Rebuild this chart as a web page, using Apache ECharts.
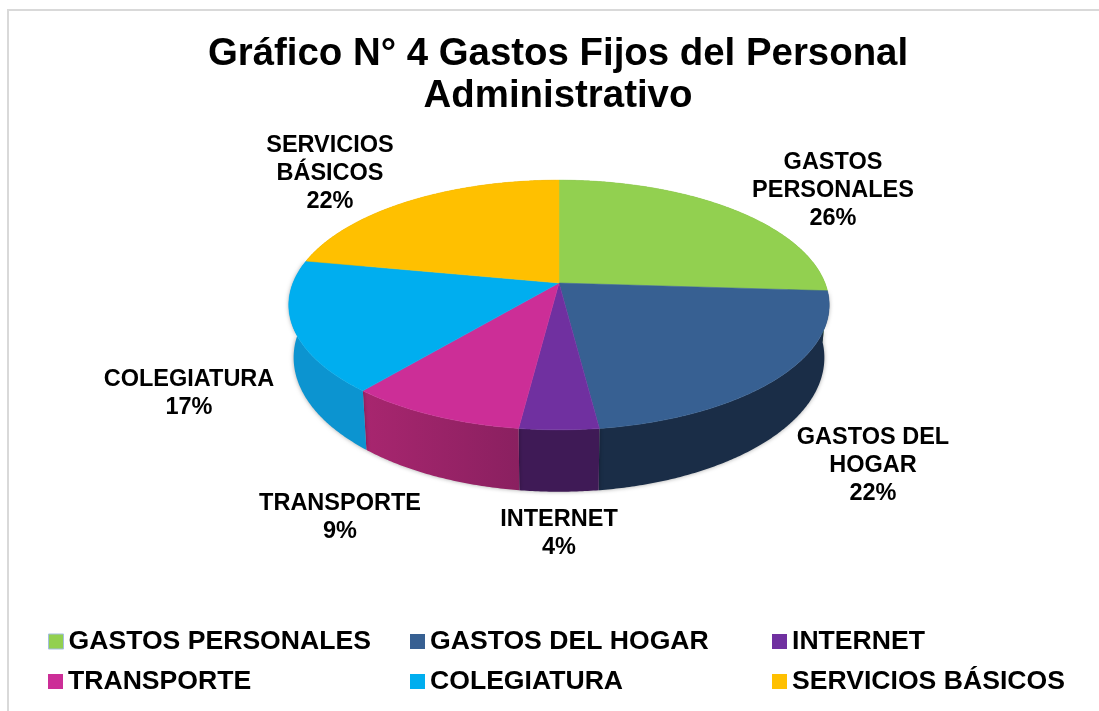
<!DOCTYPE html>
<html>
<head>
<meta charset="utf-8">
<style>
  html,body{margin:0;padding:0;background:#fff}
  #chart{width:1099px;height:711px}
</style>
<script src="https://cdn.jsdelivr.net/npm/echarts@6/dist/echarts.min.js"></script>
</head>
<body>
<div id="chart"></div>
<script>
const categories=['GASTOS PERSONALES','GASTOS DEL HOGAR','INTERNET','TRANSPORTE','COLEGIATURA','SERVICIOS BÁSICOS']
const values=[26,22,4,9,17,22]
const labelLines=['GASTOS\nPERSONALES\n26%','GASTOS DEL\nHOGAR\n22%','INTERNET\n4%','TRANSPORTE\n9%','COLEGIATURA\n17%','SERVICIOS\nBÁSICOS\n22%']
const topColors=['#92d050','#376092','#7030a0','#cc2e97','#00aeef','#ffc000']
const sideColors=['#6f9e3c','#1a2d47','#3f1a56','#96226a','#0c94d0','#c49400']

// posiciones de etiquetas y leyenda
const labelPos=[[833,191],[873,466],[559,534],[340,518],[189,394],[330,174]]
const legendPos=[[48,628],[410,628],[772,628],[48,668],[410,668],[772,668]]

// pastel con perspectiva
const cx=559,cy=283,rx=266,ry=121,persp=0.176,depth=51,bottomScale=0.982
const total=values.reduce((a,b)=>a+b,0)

function project(deg){
  let t=deg*Math.PI/180
  let u=Math.sin(t),v=-Math.cos(t)
  let s=1/(1-persp*v)
  return {x:cx+rx*u*s,y:cy+ry*v*s,s:s}
}

function startOf(i){
  return values.slice(0,i).reduce((a,b)=>a+b,0)/total*360
}

function sideFill(i){
  if(i!==3)return sideColors[i]
  // el lado del transporte se aclara hacia la izquierda
  return new echarts.graphic.LinearGradient(0,0,1,0,[
    {offset:0,color:'#a8266f'},
    {offset:1,color:'#8a2060'}
  ])
}

function makeRender(i){
  return function(params,api){
    let a0=startOf(i)
    let a1=a0+api.value(0)/total*360
    let rim=[]
    for(let a=a0;a<a1;a+=0.5){rim.push(project(a))}
    rim.push(project(a1))
    let topPts=[[cx,cy]].concat(rim.map(p=>[p.x,p.y]))
    let lowPts=rim.slice().reverse().map(p=>[cx+(p.x-cx)*bottomScale,p.y+depth*p.s])
    let wallPts=rim.map(p=>[p.x,p.y]).concat(lowPts)
    // los lados de atras quedan tapados, sin sombra
    let hidden=i===0||i===5
    return {
      type:'group',
      children:[
        {
          type:'polygon',
          z2:1,
          shape:{points:wallPts},
          style:{
            fill:sideFill(i),
            shadowColor:hidden?'transparent':'rgba(0,0,0,0.35)',
            shadowBlur:hidden?0:4
          }
        },
        {
          type:'polygon',
          z2:5,
          shape:{points:topPts},
          style:{fill:topColors[i],stroke:topColors[i],lineWidth:0.5}
        },
        {
          type:'text',
          z2:10,
          x:labelPos[i][0],
          y:labelPos[i][1],
          style:{
            text:labelLines[i],
            fill:'#000',
            font:'bold 23.5px "Liberation Sans", Arial, sans-serif',
            lineHeight:28,
            align:'center',
            verticalAlign:'middle'
          }
        }
      ]
    }
  }
}

let chart=echarts.init(document.getElementById('chart'),null,{renderer:'canvas'})
chart.setOption({
  animation:false,
  backgroundColor:'#fff',
  title:{
    text:'Gráfico N° 4 Gastos Fijos del Personal\nAdministrativo',
    left:553,
    top:28,
    textAlign:'center',
    textStyle:{
      fontFamily:'"Liberation Sans", Arial, sans-serif',
      fontWeight:'bold',
      fontSize:38.4,
      lineHeight:42,
      color:'#000'
    }
  },
  legend:categories.map((name,i)=>({
    data:[name],
    left:legendPos[i][0],
    top:legendPos[i][1],
    padding:0,
    itemWidth:15,
    itemHeight:15,
    itemGap:0,
    icon:'rect',
    selectedMode:false,
    itemStyle:i===0?{borderColor:'#a3bde0',borderWidth:1}:{},
    textStyle:{
      fontFamily:'"Liberation Sans", Arial, sans-serif',
      fontWeight:'bold',
      fontSize:26.6,
      color:'#000'
    }
  })),
  graphic:[
    {type:'line',shape:{x1:8,y1:10,x2:8,y2:711},style:{stroke:'#d9d9d9',lineWidth:2}},
    {type:'line',shape:{x1:7,y1:10,x2:1099,y2:10},style:{stroke:'#d9d9d9',lineWidth:2}}
  ],
  series:categories.map((name,i)=>({
    type:'custom',
    name:name,
    coordinateSystem:'none',
    itemStyle:{color:topColors[i]},
    data:[values[i]],
    renderItem:makeRender(i)
  }))
})
</script>
</body>
</html>
